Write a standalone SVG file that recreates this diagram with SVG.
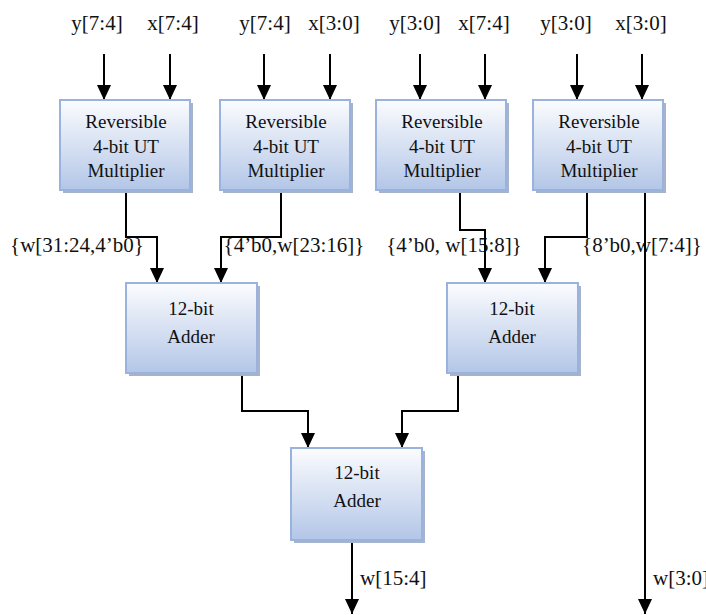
<svg xmlns="http://www.w3.org/2000/svg" width="706" height="615" viewBox="0 0 706 615">
<defs>
<linearGradient id="g" x1="0" y1="0" x2="0" y2="1">
<stop offset="0" stop-color="#fbfcfe"/>
<stop offset="1" stop-color="#b3c6e7"/>
</linearGradient>
<marker id="ah" markerUnits="userSpaceOnUse" markerWidth="16" markerHeight="16" viewBox="0 0 16 16" refX="15" refY="8" orient="auto">
<path d="M0,1 L15,8 L0,15 Z" fill="#000"/>
</marker>
</defs>
<style>
.box{fill:url(#g);stroke:#9ab3de;stroke-width:2}
.sh{fill:#a7b3c9}
text{font-family:"Liberation Serif","Times New Roman",serif;fill:#111;text-anchor:middle}
.bt{font-size:19px}
.lb{font-size:21px}
.st{text-anchor:start}
.a{fill:none;stroke:#000;stroke-width:2;marker-end:url(#ah)}
</style>
<g id="labels" font-family="Liberation Serif, serif">
<text class="lb" x="97" y="30">y[7:4]</text>
<text class="lb" x="173" y="30">x[7:4]</text>
<text class="lb" x="265" y="30">y[7:4]</text>
<text class="lb" x="334" y="30">x[3:0]</text>
<text class="lb" x="415" y="30">y[3:0]</text>
<text class="lb" x="484" y="30">x[7:4]</text>
<text class="lb" x="566" y="30">y[3:0]</text>
<text class="lb" x="641" y="30">x[3:0]</text>
<text class="lb" x="77" y="252">{w[31:24,4’b0}</text>
<text class="lb" x="294" y="252">{4’b0,w[23:16]}</text>
<text class="lb" x="454" y="252">{4’b0, w[15:8]}</text>
<text class="lb" x="642" y="252">{8’b0,w[7:4]}</text>
<text class="lb st" x="360" y="585">w[15:4]</text>
<text class="lb st" x="653" y="585">w[3:0]</text>
</g>
<g id="connectors">
<line class="a" x1="104" y1="54" x2="104" y2="100"/>
<line class="a" x1="170" y1="54" x2="170" y2="100"/>
<line class="a" x1="264" y1="54" x2="264" y2="100"/>
<line class="a" x1="330" y1="54" x2="330" y2="100"/>
<line class="a" x1="420" y1="54" x2="420" y2="100"/>
<line class="a" x1="485" y1="54" x2="485" y2="100"/>
<line class="a" x1="577" y1="54" x2="577" y2="100"/>
<line class="a" x1="642" y1="54" x2="642" y2="100"/>
<polyline class="a" points="126,192 126,237 157,237 157,283"/>
<polyline class="a" points="281,192 281,237 221,237 221,283"/>
<polyline class="a" points="460,192 460,230 485,230 485,283"/>
<polyline class="a" points="587,192 587,237 545,237 545,283"/>
<line class="a" x1="645" y1="192" x2="645" y2="614"/>
<polyline class="a" points="242,375 242,411 308,411 308,448"/>
<polyline class="a" points="458,375 458,411 402,411 402,448"/>
<line class="a" x1="352" y1="542" x2="352" y2="614"/>
</g>
<g id="mult1">
<rect class="sh" x="63" y="103" width="130" height="90"/>
<rect class="box" x="60" y="100" width="130" height="90"/>
<text class="bt" x="126" y="128" font-family="Liberation Serif, serif">Reversible</text>
<text class="bt" x="126" y="153" font-family="Liberation Serif, serif">4-bit UT</text>
<text class="bt" x="126" y="177" font-family="Liberation Serif, serif">Multiplier</text>
</g>
<g id="mult2">
<rect class="sh" x="223" y="103" width="130" height="90"/>
<rect class="box" x="220" y="100" width="130" height="90"/>
<text class="bt" x="286" y="128" font-family="Liberation Serif, serif">Reversible</text>
<text class="bt" x="286" y="153" font-family="Liberation Serif, serif">4-bit UT</text>
<text class="bt" x="286" y="177" font-family="Liberation Serif, serif">Multiplier</text>
</g>
<g id="mult3">
<rect class="sh" x="379" y="103" width="130" height="90"/>
<rect class="box" x="376" y="100" width="130" height="90"/>
<text class="bt" x="442" y="128" font-family="Liberation Serif, serif">Reversible</text>
<text class="bt" x="442" y="153" font-family="Liberation Serif, serif">4-bit UT</text>
<text class="bt" x="442" y="177" font-family="Liberation Serif, serif">Multiplier</text>
</g>
<g id="mult4">
<rect class="sh" x="536" y="103" width="130" height="90"/>
<rect class="box" x="533" y="100" width="130" height="90"/>
<text class="bt" x="599" y="128" font-family="Liberation Serif, serif">Reversible</text>
<text class="bt" x="599" y="153" font-family="Liberation Serif, serif">4-bit UT</text>
<text class="bt" x="599" y="177" font-family="Liberation Serif, serif">Multiplier</text>
</g>
<g id="adder1">
<rect class="sh" x="129" y="286" width="131" height="90"/>
<rect class="box" x="126" y="283" width="131" height="90"/>
<text class="bt" x="191" y="315" font-family="Liberation Serif, serif">12-bit</text>
<text class="bt" x="191" y="343" font-family="Liberation Serif, serif">Adder</text>
</g>
<g id="adder2">
<rect class="sh" x="450" y="286" width="131" height="90"/>
<rect class="box" x="447" y="283" width="131" height="90"/>
<text class="bt" x="512" y="315" font-family="Liberation Serif, serif">12-bit</text>
<text class="bt" x="512" y="343" font-family="Liberation Serif, serif">Adder</text>
</g>
<g id="adder3">
<rect class="sh" x="294" y="451" width="131" height="92"/>
<rect class="box" x="291" y="448" width="131" height="92"/>
<text class="bt" x="357" y="479" font-family="Liberation Serif, serif">12-bit</text>
<text class="bt" x="357" y="507" font-family="Liberation Serif, serif">Adder</text>
</g>
</svg>
